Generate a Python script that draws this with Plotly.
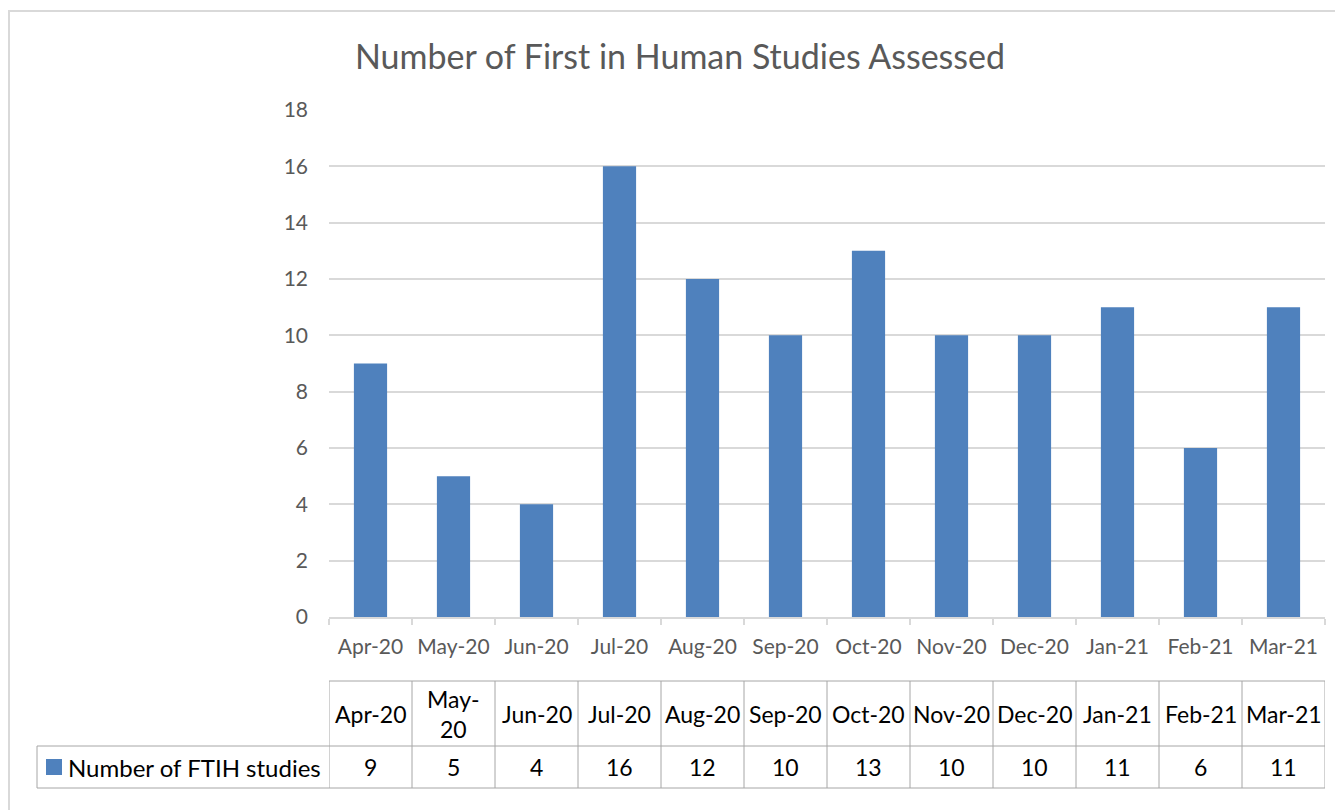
import plotly.graph_objects as go

months = ["Apr-20", "May-20", "Jun-20", "Jul-20", "Aug-20", "Sep-20",
          "Oct-20", "Nov-20", "Dec-20", "Jan-21", "Feb-21", "Mar-21"]
header_labels = ["Apr-20", "May-<br>20", "Jun-20", "Jul-20", "Aug-20", "Sep-20",
                 "Oct-20", "Nov-20", "Dec-20", "Jan-21", "Feb-21", "Mar-21"]
ftih = [9, 5, 4, 16, 12, 10, 13, 10, 10, 11, 6, 11]
series_name = "Number of FTIH studies"
title = "Number of First in Human Studies Assessed"

W, H = 1343, 810
OFF = 8  # page body margin
L, R, T, B = 329 - OFF, 1325 - OFF, 110 - OFF, 617 - OFF
BAR = "#4f81bd"
GRID = "#d9d9d9"
FONT = "Lato"
TS = 23  # table font size


def px(x):
    return (x - OFF - L) / (R - L)


def py(y):
    return (B - (y - OFF)) / (B - T)


fig = go.Figure()
fig.add_trace(go.Bar(x=months, y=ftih, marker=dict(color=BAR, line=dict(width=0)),
                     name=series_name, showlegend=False))

shapes = []
# outer chart border
shapes.append(dict(type="rect", xref="paper", yref="paper",
                   x0=px(9), x1=px(1360), y0=py(11), y1=py(830),
                   line=dict(color=GRID, width=2), layer="below"))
tc = "#a6a6a6"
row_top, row_mid, row_bot = py(681), py(746), py(788)
shapes.append(dict(type="line", xref="x", yref="paper", x0=-0.5, x1=len(months) - 0.5,
                   y0=row_top, y1=row_top, line=dict(color=tc, width=1)))
shapes.append(dict(type="line", xref="paper", yref="paper", x0=px(37), x1=1,
                   y0=row_mid, y1=row_mid, line=dict(color=tc, width=1)))
shapes.append(dict(type="line", xref="paper", yref="paper", x0=px(37), x1=1,
                   y0=row_bot, y1=row_bot, line=dict(color=tc, width=1)))
shapes.append(dict(type="line", xref="paper", yref="paper", x0=px(37), x1=px(37),
                   y0=row_mid, y1=row_bot, line=dict(color=tc, width=1)))
for i in range(len(months) + 1):
    shapes.append(dict(type="line", xref="x", yref="paper", x0=i - 0.5, x1=i - 0.5,
                       y0=row_top, y1=row_bot, line=dict(color=tc, width=1)))
# legend key
shapes.append(dict(type="rect", xref="paper", yref="paper", x0=px(46), x1=px(62),
                   y0=py(759), y1=py(775), fillcolor=BAR, line=dict(width=0)))

ann = []
for i, (h, v) in enumerate(zip(header_labels, ftih)):
    ann.append(dict(x=i, y=(row_top + row_mid) / 2, xref="x", yref="paper",
                    text=h, showarrow=False, font=dict(family=FONT, size=TS, color="#000000"),
                    yanchor="middle", xanchor="center"))
    ann.append(dict(x=i, y=(row_mid + row_bot) / 2, xref="x", yref="paper",
                    text=str(v), showarrow=False, font=dict(family=FONT, size=TS, color="#000000"),
                    yanchor="middle", xanchor="center"))
ann.append(dict(x=px(66), y=(row_mid + row_bot) / 2, xref="paper", yref="paper",
                text=series_name, showarrow=False, font=dict(family=FONT, size=24, color="#000000"),
                yanchor="middle", xanchor="left"))

fig.update_layout(
    width=W, height=H,
    margin=dict(l=L, r=W - R, t=T, b=H - B, pad=0),
    paper_bgcolor="white", plot_bgcolor="white",
    title=dict(text=title, xref="container", yref="container",
               x=(680 - OFF) / W, xanchor="center", y=1 - (57 - OFF) / H, yanchor="middle",
               font=dict(family=FONT, size=34, color="#595959")),
    bargap=0.6,
    xaxis=dict(type="category", showgrid=False, showline=True, linecolor=GRID, linewidth=2,
               ticks="outside", tickson="boundaries", ticklen=6, tickcolor=GRID, tickwidth=2,
               ticklabelstandoff=10,
               tickfont=dict(family=FONT, size=21, color="#595959"), range=[-0.5, 11.5]),
    yaxis=dict(range=[0, 18], dtick=2, showgrid=True, gridcolor=GRID, gridwidth=2,
               zeroline=False, showline=False, ticks="", ticklabelstandoff=20,
               tickfont=dict(family=FONT, size=21, color="#595959")),
    shapes=shapes, annotations=ann,
)

fig.write_html("out.html")
